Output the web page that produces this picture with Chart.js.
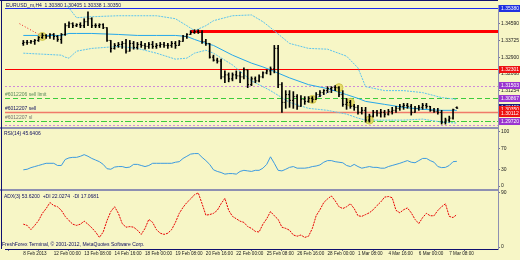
<!DOCTYPE html>
<html>
<head>
<meta charset="utf-8">
<script src="https://cdn.jsdelivr.net/npm/chart.js@4.4.0/dist/chart.umd.min.js"></script>
<style>
  html, body { margin: 0; padding: 0; background: #f7f6c6; }
  #chart { display: block; }
</style>
</head>
<body>
<canvas id="chart" width="520" height="260"></canvas>
<script>
// EURUSD H4, 8 Feb - 7 Mar 2013, one value per bar
const xLabels = ['8 Feb 2013', '12 Feb 00:00', '13 Feb 08:00', '14 Feb 16:00', '18 Feb 00:00',
  '19 Feb 08:00', '20 Feb 16:00', '22 Feb 00:00', '25 Feb 08:00', '26 Feb 16:00', '28 Feb 00:00',
  '1 Mar 08:00', '4 Mar 16:00', '6 Mar 00:00', '7 Mar 08:00'];

const opens = [1.3360,1.3365,1.3365,1.3370,1.3375,1.3390,1.3400,1.3395,1.3405,1.3395,
  1.3380,1.3405,1.3449,1.3459,1.3449,1.3454,1.3449,1.3469,1.3484,1.3449,
  1.3449,1.3454,1.3439,1.3375,1.3335,1.3350,1.3355,1.3360,1.3321,1.3360,
  1.3340,1.3355,1.3350,1.3345,1.3355,1.3345,1.3350,1.3355,1.3350,1.3350,
  1.3360,1.3350,1.3370,1.3395,1.3405,1.3415,1.3419,1.3415,1.3370,1.3360,
  1.3291,1.3276,1.3271,1.3192,1.3202,1.3182,1.3202,1.3197,1.3192,1.3227,
  1.3153,1.3182,1.3172,1.3192,1.3212,1.3222,1.3232,1.3335,1.3153,1.3064,
  1.3103,1.3074,1.3093,1.3044,1.3079,1.3069,1.3084,1.3079,1.3103,1.3113,
  1.3123,1.3133,1.3138,1.3138,1.3103,1.3054,1.3064,1.3044,1.3039,1.3014,
  1.3024,1.2975,1.2995,1.3014,1.3010,1.3014,1.3005,1.3019,1.3024,1.3034,
  1.3044,1.3049,1.3044,1.3014,1.3034,1.3039,1.3049,1.3044,1.3024,1.3019,
  1.3014,1.2965,1.2975,1.2985,1.3038];
const highs = [1.3375,1.3375,1.3375,1.3380,1.3395,1.3410,1.3405,1.3410,1.3410,1.3400,
  1.3410,1.3459,1.3469,1.3464,1.3459,1.3464,1.3484,1.3518,1.3489,1.3459,
  1.3459,1.3459,1.3439,1.3375,1.3360,1.3365,1.3370,1.3380,1.3375,1.3370,
  1.3365,1.3370,1.3360,1.3365,1.3370,1.3360,1.3365,1.3365,1.3360,1.3370,
  1.3370,1.3375,1.3400,1.3410,1.3424,1.3429,1.3429,1.3424,1.3380,1.3360,
  1.3301,1.3286,1.3281,1.3222,1.3212,1.3212,1.3222,1.3217,1.3237,1.3227,
  1.3192,1.3192,1.3202,1.3217,1.3227,1.3242,1.3350,1.3350,1.3163,1.3123,
  1.3123,1.3118,1.3103,1.3098,1.3093,1.3093,1.3093,1.3113,1.3123,1.3128,
  1.3143,1.3143,1.3148,1.3143,1.3123,1.3084,1.3074,1.3054,1.3049,1.3039,
  1.3039,1.3005,1.3024,1.3024,1.3029,1.3024,1.3029,1.3039,1.3044,1.3054,
  1.3059,1.3059,1.3054,1.3044,1.3049,1.3059,1.3059,1.3044,1.3034,1.3034,
  1.3024,1.2985,1.2995,1.3030,1.3041];
const lows = [1.3350,1.3355,1.3360,1.3355,1.3370,1.3385,1.3385,1.3385,1.3380,1.3370,
  1.3360,1.3400,1.3439,1.3439,1.3444,1.3439,1.3439,1.3449,1.3439,1.3439,
  1.3439,1.3434,1.3370,1.3316,1.3331,1.3340,1.3335,1.3311,1.3321,1.3331,
  1.3331,1.3340,1.3331,1.3335,1.3335,1.3335,1.3340,1.3340,1.3335,1.3340,
  1.3335,1.3350,1.3370,1.3385,1.3405,1.3410,1.3410,1.3360,1.3350,1.3286,
  1.3271,1.3261,1.3182,1.3163,1.3167,1.3172,1.3182,1.3163,1.3182,1.3138,
  1.3148,1.3163,1.3167,1.3187,1.3207,1.3202,1.3212,1.3138,1.3014,1.3034,
  1.3039,1.3034,1.3029,1.3044,1.3054,1.3064,1.3064,1.3079,1.3093,1.3103,
  1.3113,1.3113,1.3123,1.3093,1.3044,1.3029,1.3034,1.3024,1.3005,1.3005,
  1.2965,1.2965,1.2990,1.2995,1.2990,1.2990,1.3000,1.3005,1.3014,1.3024,
  1.3029,1.3034,1.3000,1.3014,1.3024,1.3029,1.3034,1.3019,1.3014,1.3005,
  1.2955,1.2955,1.2965,1.2980,1.3034];
const closes = [1.3365,1.3365,1.3370,1.3375,1.3390,1.3400,1.3395,1.3405,1.3395,1.3380,
  1.3405,1.3449,1.3459,1.3449,1.3454,1.3449,1.3469,1.3484,1.3449,1.3449,
  1.3454,1.3439,1.3375,1.3335,1.3350,1.3355,1.3360,1.3321,1.3360,1.3340,
  1.3355,1.3350,1.3345,1.3355,1.3345,1.3350,1.3355,1.3350,1.3350,1.3360,
  1.3350,1.3370,1.3395,1.3405,1.3415,1.3419,1.3415,1.3370,1.3360,1.3291,
  1.3276,1.3271,1.3192,1.3202,1.3182,1.3202,1.3197,1.3192,1.3227,1.3153,
  1.3182,1.3172,1.3192,1.3212,1.3222,1.3232,1.3335,1.3153,1.3064,1.3103,
  1.3074,1.3093,1.3044,1.3079,1.3069,1.3084,1.3079,1.3103,1.3113,1.3123,
  1.3133,1.3138,1.3138,1.3103,1.3054,1.3064,1.3044,1.3039,1.3014,1.3024,
  1.2975,1.2995,1.3014,1.3010,1.3014,1.3005,1.3019,1.3024,1.3034,1.3044,
  1.3049,1.3044,1.3014,1.3034,1.3039,1.3049,1.3044,1.3024,1.3019,1.3014,
  1.2965,1.2975,1.2985,1.3028,1.3035];

// Bollinger bands, read every few bars
const bandBars   = [0, 5, 10, 11, 12, 14, 18, 25, 30, 35, 40, 43, 45, 48, 50, 55, 60, 63, 65, 70, 75, 80, 85, 88, 90, 95, 100, 105, 110, 114];
const bandUpper  = [1.3632,1.3632,1.3617,1.3568,1.3538,1.3489,1.3494,1.3499,1.3499,1.3499,
  1.3484,1.3449,1.3424,1.3449,1.3474,1.3499,1.3503,1.3469,1.3439,1.3360,
  1.3335,1.3331,1.3296,1.3237,1.3143,1.3123,1.3123,1.3113,1.3088,1.3079];
const bandMiddle = [1.3400,1.3400,1.3400,1.3405,1.3410,1.3410,1.3410,1.3405,1.3400,1.3400,
  1.3400,1.3395,1.3380,1.3360,1.3350,1.3301,1.3261,1.3242,1.3227,1.3187,
  1.3153,1.3133,1.3103,1.3084,1.3069,1.3054,1.3039,1.3029,1.3024,1.3024];
const bandLower  = [1.3311,1.3306,1.3301,1.3291,1.3286,1.3321,1.3335,1.3345,1.3335,1.3311,
  1.3281,1.3286,1.3311,1.3326,1.3311,1.3252,1.3172,1.3143,1.3123,1.3064,
  1.3034,1.3024,1.3005,1.2985,1.2975,1.2975,1.2975,1.2980,1.2965,1.2960];

const rsi = [30,31,34,36,38,40,42,42,42,38,38,49,52,53,53,55,58,55,51,48,
  45,40,32,31,35,36,36,34,35,40,40,38,36,38,42,42,42,42,42,42,
  44,45,51,55,59,60,60,53,47,40,30,27,25,22,23,23,22,27,29,28,
  27,29,29,33,40,54,42,29,28,31,34.5,36,33,33,33,34,36,37,39,44,
  47,47,45,44,43,38,36,40,36,33,34.5,36,34.5,34.5,33,33,36,38,40,42,
  44.5,47,44,43,47,51,51,47,44,36,34,34.5,38,45,45.6];

const adx = [38,36,29,36,44,56,64,74,69,67,61,51,44,38,36,38,43,38,32,25,
  16,25,44,59,67,56,39,33,34,33,28,21,31,46,41,29,23,21,23,29,
  41,56,66,74,80,87,90,72,53,54,56,61,72,81,61,51,47,43,41,34,
  31,26,25,38,47,59,52,46,33,31,28,20,18,20,16,18,31,52,62,74,
  80,85,77,67,64,67,72,64,52,51,54,57,62,69,75,83,84,82,61,57,
  62,65,57,46,39,49,56,52,52,61,67,72,51,49,54];

// signal markers (bar, price) and the dotted links between them
const signalBars = [5, 76, 83, 86, 91];
const signalPrices = [1.3395, 1.3079, 1.3138, 1.3064, 1.2975];
const redLinkBars = [-1, 5];
const redLinkPrices = [1.3459, 1.3395];
const blueLinkBars = [76, 83];
const blueLinkPrices = [1.3079, 1.3138];

// price levels
const levelPrices = [1.3538, 1.3424, 1.32301, 1.3148, 1.3084, 1.3014, 1.2970, 1.2950];
const redLineStartBar = 44;
const priceTicks = [1.34590, 1.33725, 1.32900, 1.32068, 1.31254];
const axisBoxPrices = [1.3538, 1.32301, 1.3150, 1.3086, 1.3040, 1.3029, 1.3011, 1.2972];
const axisBoxLabels = ['1.35380', '1.32301', '1.31503', '1.30867', '1.30400', '1.30350', '1.30112', '1.29720'];
const rsiTicks = [0, 30, 70, 100];
const adxTicks = [0, 90];

const FONT = '"Liberation Sans", Arial, sans-serif';

const levelStyles = [
  { color: '#1a2cf0', width: 1, dash: [] },
  { color: '#ff0000', width: 3, dash: [], fromBar: true },
  { color: '#ff0000', width: 1, dash: [] },
  { color: '#cf8ad8', width: 1, dash: [2, 2] },
  { color: '#3ccc3c', width: 1, dash: [5, 3] },
  { color: '#f07a6a', width: 1.5, dash: [] },
  { color: '#3ccc3c', width: 1, dash: [6, 2, 2, 2] },
  { color: '#cf8ad8', width: 1, dash: [2, 2] }
];
const boxColors = ['#2030e0', '#ee1111', '#9a35d0', '#9a35d0', '#1b1b7a', '#ee1111', '#ee1111', '#9a35d0'];

const decor = {
  id: 'decor',
  beforeDraw(chart) {
    const { ctx, width, height } = chart;
    ctx.save();
    ctx.fillStyle = '#f7f6c6';
    ctx.fillRect(0, 0, width, height);
    ctx.restore();
  },
  beforeDatasetsDraw(chart) {
    const { ctx, chartArea: a, scales: { x, yP } } = chart;
    ctx.save();
    levelPrices.forEach((p, k) => {
      const st = levelStyles[k];
      const y = Math.round(yP.getPixelForValue(p)) + 0.5;
      const x0 = st.fromBar ? x.getPixelForValue(redLineStartBar) : a.left;
      ctx.strokeStyle = st.color;
      ctx.lineWidth = st.width;
      ctx.setLineDash(st.dash);
      ctx.beginPath();
      ctx.moveTo(x0, y);
      ctx.lineTo(a.right, y);
      ctx.stroke();
    });
    ctx.restore();
  },
  afterDraw(chart) {
    const { ctx, chartArea: a, scales: { yP, yR, yA } } = chart;
    ctx.save();
    // panel separators
    ctx.strokeStyle = '#8e90b2';
    ctx.lineWidth = 2;
    [yR.top, yA.top].forEach(y => {
      ctx.beginPath();
      ctx.moveTo(0, Math.round(y));
      ctx.lineTo(a.right, Math.round(y));
      ctx.stroke();
    });
    // frame
    ctx.strokeStyle = '#101070';
    ctx.lineWidth = 1;
    ctx.beginPath();
    ctx.moveTo(1.5, 0);
    ctx.lineTo(1.5, a.bottom);
    ctx.moveTo(0, 0.5);
    ctx.lineTo(a.right, 0.5);
    ctx.stroke();

    // axis boxes
    ctx.font = '5px ' + FONT;
    ctx.textBaseline = 'middle';
    axisBoxPrices.forEach((p, k) => {
      const y = yP.getPixelForValue(p);
      ctx.fillStyle = boxColors[k];
      ctx.fillRect(a.right + 1, Math.round(y) - 3, 21, 7);
      ctx.fillStyle = '#ffffff';
      ctx.fillText(axisBoxLabels[k], a.right + 3, Math.round(y) + 0.5);
    });

    // in-chart texts
    ctx.textBaseline = 'top';
    ctx.fillStyle = '#101060';
    ctx.fillText('EURUSD_m,H4  1.30380 1.30405 1.30338 1.30350', 6, 3);
    ctx.fillStyle = '#5a8a5a';
    ctx.fillText('#6012206 sell limit', 5, yP.getPixelForValue(levelPrices[4]) - 6);
    ctx.fillStyle = '#101060';
    ctx.fillText('#6012207 sell', 5, yP.getPixelForValue(levelPrices[5]) - 6);
    ctx.fillStyle = '#707070';
    ctx.fillText('#6012207 sl', 5, yP.getPixelForValue(levelPrices[6]) - 6);
    ctx.fillStyle = '#101060';
    ctx.fillText('RSI(14) 45.6406', 4, yR.top + 3);
    ctx.fillText('ADX(3) 53.6200  +DI 22.0274  -DI 17.0681', 4, yA.top + 4);
    ctx.fillText('FreshForex Terminal, \u00a9 2001-2012, MetaQuotes Software Corp.', 2, a.bottom - 7);
    ctx.restore();
  }
};

const barIdx = opens.map((_, i) => i);
const bandLine = (vals, color, dash) => ({
  type: 'line', yAxisID: 'yP',
  data: bandBars.map((b, k) => ({ x: b, y: vals[k] })),
  borderColor: color, borderWidth: 1, pointRadius: 0, borderDash: dash
});

new Chart(document.getElementById('chart'), {
  type: 'bar',
  data: {
    datasets: [
      {
        type: 'bar', yAxisID: 'yP',
        data: barIdx.map(i => ({ x: i, y: [lows[i], highs[i]] })),
        backgroundColor: '#000000', barThickness: 1, grouped: false
      },
      {
        type: 'scatter', yAxisID: 'yP',
        data: barIdx.map(i => ({ x: i - 0.2, y: opens[i] })),
        pointStyle: 'line', pointRadius: 0.6, borderColor: '#000000', borderWidth: 1
      },
      {
        type: 'scatter', yAxisID: 'yP',
        data: barIdx.map(i => ({ x: i + 0.2, y: closes[i] })),
        pointStyle: 'line', pointRadius: 0.6, borderColor: '#000000', borderWidth: 1
      },
      {
        type: 'scatter', yAxisID: 'yP',
        data: signalBars.map((b, k) => ({ x: b, y: signalPrices[k] })),
        pointRadius: 4, backgroundColor: 'rgba(226,214,80,0.75)', borderColor: 'rgba(200,190,60,0.8)', borderWidth: 1
      },
      {
        type: 'line', yAxisID: 'yP',
        data: redLinkBars.map((b, k) => ({ x: b, y: redLinkPrices[k] })),
        borderColor: '#ee2020', borderWidth: 1, pointRadius: 0, borderDash: [1, 2]
      },
      {
        type: 'line', yAxisID: 'yP',
        data: blueLinkBars.map((b, k) => ({ x: b, y: blueLinkPrices[k] })),
        borderColor: '#2040e0', borderWidth: 1, pointRadius: 0, borderDash: [1, 2]
      },
      bandLine(bandUpper, '#5cc4ee', [2, 1]),
      bandLine(bandMiddle, '#27a8ea', []),
      bandLine(bandLower, '#5cc4ee', [2, 1]),
      {
        type: 'line', yAxisID: 'yR',
        data: barIdx.map(i => ({ x: i, y: rsi[i] })),
        borderColor: '#3d9be0', borderWidth: 1, pointRadius: 0
      },
      {
        type: 'line', yAxisID: 'yA',
        data: barIdx.map(i => ({ x: i, y: adx[i] })),
        borderColor: '#e80000', borderWidth: 1, pointRadius: 0, borderDash: [2, 1]
      }
    ]
  },
  options: {
    responsive: false,
    animation: false,
    layout: { padding: { left: 2, top: 1, right: 0, bottom: 0 } },
    plugins: { legend: { display: false }, tooltip: { enabled: false } },
    scales: {
      x: {
        type: 'linear', min: -0.5, max: 120.5, position: 'bottom',
        afterBuildTicks: s => { s.ticks = xLabels.map((_, k) => ({ value: k * 8 })); },
        afterFit: s => { s.height = 11; },
        ticks: {
          autoSkip: false, maxRotation: 0, align: 'start', padding: 0,
          font: { family: FONT, size: 4.6 }, color: '#202020',
          callback: v => xLabels[v / 8]
        },
        grid: { drawOnChartArea: false, tickLength: 2, color: '#707090' },
        border: { color: '#101070' }
      },
      yP: {
        type: 'linear', position: 'right', stack: 'panes', stackWeight: 125,
        min: 1.29354, max: 1.35529,
        afterBuildTicks: s => { s.ticks = priceTicks.map(v => ({ value: v })); },
        afterFit: s => { s.width = 22; },
        ticks: { font: { family: FONT, size: 5 }, color: '#202020', padding: 1, callback: v => v.toFixed(5) },
        grid: { drawOnChartArea: false, tickLength: 2, color: '#707090' },
        border: { color: '#8e90b2' }
      },
      yR: {
        type: 'linear', position: 'right', stack: 'panes', stackWeight: 63,
        min: -7.27, max: 107.27,
        afterBuildTicks: s => { s.ticks = rsiTicks.map(v => ({ value: v })); },
        afterFit: s => { s.width = 22; },
        ticks: { font: { family: FONT, size: 5 }, color: '#202020', padding: 1 },
        grid: { drawOnChartArea: false, tickLength: 2, color: '#707090' },
        border: { color: '#8e90b2' }
      },
      yA: {
        type: 'linear', position: 'right', stack: 'panes', stackWeight: 60,
        min: -3.27, max: 94.9,
        afterBuildTicks: s => { s.ticks = adxTicks.map(v => ({ value: v })); },
        afterFit: s => { s.width = 22; },
        ticks: { font: { family: FONT, size: 5 }, color: '#202020', padding: 1 },
        grid: { drawOnChartArea: false, tickLength: 2, color: '#707090' },
        border: { color: '#8e90b2' }
      }
    }
  },
  plugins: [decor]
});
</script>
</body>
</html>
